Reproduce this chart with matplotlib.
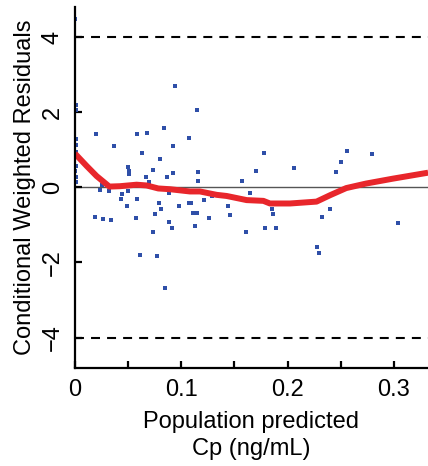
import numpy as np
import matplotlib
matplotlib.use('Agg')
import matplotlib.pyplot as plt

plt.rcParams['font.family'] = ['Liberation Sans', 'DejaVu Sans']

# observations: population predicted Cp vs CWRES
pred = [0.0005, 0.0008, 0.0008, 0.0010, 0.0006, 0.0007, 0.0009, 0.0005, 0.0008, 0.0006,
        0.0944, 0.1151, 0.0200, 0.0586, 0.0680, 0.0840, 0.1075, 0.0370, 0.0925, 0.0633,
        0.0802, 0.0501, 0.0511, 0.0511, 0.0737, 0.0925, 0.0671, 0.0868, 0.1160, 0.0699,
        0.1160, 0.0257, 0.0238, 0.0323, 0.0501, 0.0887, 0.0445, 0.0436, 0.0586, 0.0492,
        0.0793, 0.0981, 0.1072, 0.1087, 0.0812, 0.0755, 0.1113, 0.1151, 0.0191, 0.0266,
        0.0341, 0.0577, 0.0887, 0.0915, 0.1132, 0.0737, 0.0614, 0.0774, 0.0849, 0.1781,
        0.1706, 0.2063, 0.1574, 0.1649, 0.1292, 0.1216, 0.1442, 0.1461, 0.1263, 0.1856,
        0.1866, 0.1790, 0.1894, 0.1611, 0.2279, 0.2298, 0.2326, 0.2402, 0.2562, 0.2797,
        0.2505, 0.2458, 0.3041]
cwres = [4.49, 2.20, 2.05, 1.28, 1.12, 0.93, 0.56, 0.43, 0.27, 0.13,
         2.70, 2.06, 1.43, 1.43, 1.45, 1.59, 1.32, 1.11, 1.11, 0.92,
         0.76, 0.55, 0.44, 0.36, 0.47, 0.39, 0.28, 0.28, 0.42, 0.15,
         0.18, 0.05, -0.06, -0.11, -0.09, -0.14, -0.17, -0.30, -0.30, -0.51,
         -0.41, -0.51, -0.43, -0.43, -0.57, -0.70, -0.67, -0.67, -0.78, -0.83,
         -0.86, -0.81, -0.91, -1.07, -1.02, -1.20, -1.79, -1.84, -2.67, 0.92,
         0.44, 0.52, 0.18, -0.14, -0.22, -0.35, -0.49, -0.73, -0.81, -0.57,
         -0.70, -1.07, -1.07, -1.20, -1.58, -1.74, -0.78, -0.57, 0.98, 0.90,
         0.68, 0.42, -0.94]

# smoothed trend line
trend_x = [0.0, 0.011, 0.0204, 0.0324, 0.0423, 0.0580, 0.0674, 0.0784, 0.0894, 0.1082,
           0.1176, 0.1333, 0.1427, 0.1615, 0.1772, 0.1834, 0.2023, 0.2272, 0.2399, 0.2551,
           0.2737, 0.2988, 0.3321]
trend_y = [0.90, 0.57, 0.30, 0.02, 0.03, 0.07, 0.05, -0.03, -0.05, -0.11,
           -0.11, -0.20, -0.23, -0.34, -0.36, -0.43, -0.43, -0.38, -0.21, -0.02,
           0.10, 0.23, 0.39]

xticks = [0, 0.05, 0.1, 0.15, 0.2, 0.25, 0.3]
xticklabels = ['0', '', '0.1', '', '0.2', '', '0.3']
yticks = [-4, -2, 0, 2, 4]
yticklabels = ['\u22124', '\u22122', '0', '2', '4']

fig = plt.figure(figsize=(4.28, 4.66), dpi=100)
ax = fig.add_axes([0.175, 0.211, 0.825, 0.774])

ax.axhline(0, color='#555555', lw=1.0, zorder=1)
ax.axhline(4, color='black', lw=1.5, dashes=(4.3, 3.4), zorder=1)
ax.axhline(-4, color='black', lw=1.5, dashes=(4.3, 3.4), zorder=1)
ax.plot(pred, cwres, 's', color='#2f4fa8', markersize=2.3, markeredgewidth=0, zorder=2)
ax.plot(trend_x, trend_y, color='#e8262b', lw=4.3, solid_capstyle='butt',
        solid_joinstyle='round', zorder=3)

ax.set_xlim(0, 0.332)
ax.set_ylim(-4.8, 4.8)
ax.spines['top'].set_visible(False)
ax.spines['right'].set_visible(False)
for s in ['left', 'bottom']:
    ax.spines[s].set_linewidth(1.6)
    ax.spines[s].set_zorder(5)

ax.set_xticks(xticks)
ax.set_xticklabels(xticklabels)
ax.set_yticks(yticks)
ax.set_yticklabels(yticklabels, rotation=90, va='center')
ax.tick_params(direction='in', length=5, width=1.6, labelsize=17, pad=8)

ax.set_xlabel('Population predicted\nCp (ng/mL)', fontsize=17, linespacing=1.35, labelpad=7)
ax.set_ylabel('Conditional Weighted Residuals', fontsize=17, labelpad=4)

fig.savefig('out.png', dpi=100)
